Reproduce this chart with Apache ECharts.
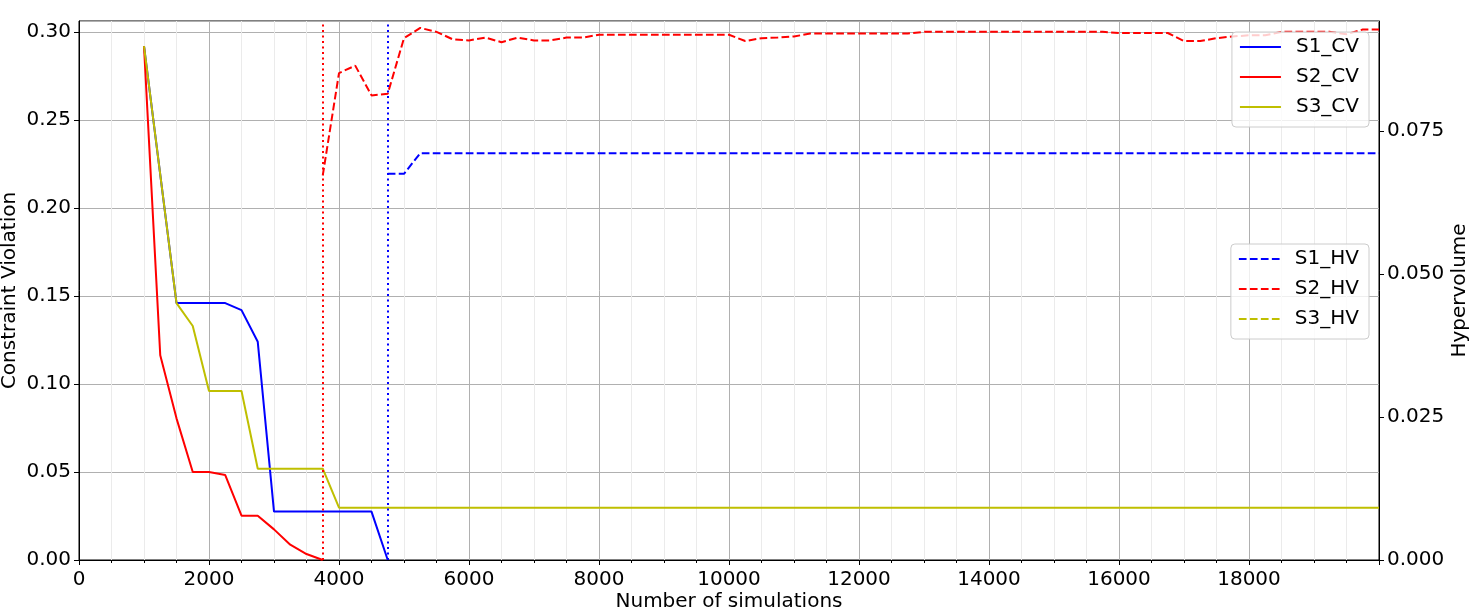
<!DOCTYPE html>
<html><head><meta charset="utf-8">
<script src="https://cdn.jsdelivr.net/npm/echarts@6/dist/echarts.min.js"></script>
<style>html,body{margin:0;padding:0;background:#fff}#c{width:1481px;height:613px}</style>
</head><body><div id="c"></div>
<script>
// ---- data ----
const xLimit = 20000;
const cvLimit = 0.3063;
const hvLimit = 0.0942;
const feasibleAt = { S1: 4750, S2: 3750 };

const s1CvX = [1000, 1250, 1500, 1750, 2000, 2250, 2500, 2750, 3000, 3250, 3500, 3750, 4000, 4250, 4500, 4750];
const s1CvY = [0.292, 0.219, 0.146, 0.146, 0.146, 0.146, 0.142, 0.124, 0.0275, 0.0275, 0.0275, 0.0275, 0.0275, 0.0275, 0.0275, 0];

const s2CvX = [1000, 1250, 1500, 1750, 2000, 2250, 2500, 2750, 3000, 3250, 3500, 3750];
const s2CvY = [0.292, 0.1163, 0.0805, 0.050, 0.050, 0.0483, 0.0252, 0.0252, 0.0174, 0.0087, 0.0034, 0];

const s3CvX = [1000, 1250, 1500, 1750, 2000, 2250, 2500, 2750, 3000, 3250, 3500, 3750, 4000, 20000];
const s3CvY = [0.292, 0.219, 0.146, 0.133, 0.096, 0.096, 0.096, 0.0519, 0.0519, 0.0519, 0.0519, 0.0519, 0.0297, 0.0297];

const s1HvX = [4750, 5000, 5250, 20000];
const s1HvY = [0.0675, 0.0675, 0.0711, 0.0711];

const s2HvX = [3750, 4000, 4250, 4500, 4750, 5000, 5250, 5500, 5750, 6000, 6250, 6500, 6750, 7000, 7250, 7500, 7750, 8000,
  10000, 10250, 10500, 10750, 11000, 11250, 12750, 13000, 15750, 16000, 16750, 17000, 17250, 17500, 17750, 18000, 18250,
  18500, 19250, 19500, 19750, 20000];
const s2HvY = [0.0672, 0.0851, 0.0864, 0.0812, 0.0815, 0.0912, 0.0930, 0.0923, 0.0910, 0.0908, 0.0913, 0.0905, 0.0913, 0.0908, 0.0908, 0.0913, 0.0913, 0.0918,
  0.0918, 0.0907, 0.0912, 0.0913, 0.0915, 0.0920, 0.0920, 0.0923, 0.0923, 0.0921, 0.0921, 0.0907, 0.0907, 0.0912, 0.0915, 0.0917, 0.0917,
  0.0923, 0.0923, 0.0919, 0.0927, 0.0927];

const s3HvX = [];
const s3HvY = [];

// ---- chart ----
const zip = (xs, ys) => xs.map((x, i) => [x, ys[i]]);
const FONT = 'DejaVu Sans';
const FS = 20;
const BLUE = '#0000ff', RED = '#ff0000', YEL = '#bfbf00';
const LW = 2;
const DASH = [7.7, 3.3], DOT = [2.1, 3.4];

function line(name, xs, ys, color, dashed, yIdx, extra) {
  return Object.assign({
    name, type: 'line', yAxisIndex: yIdx, data: zip(xs, ys),
    symbol: 'none', showSymbol: false, clip: true, silent: true,
    lineStyle: { color, width: LW, type: dashed ? DASH : 'solid' },
    itemStyle: { color }
  }, extra || {});
}
function vline(x, color) {
  return {
    silent: true, symbol: ['none', 'none'], label: { show: false },
    lineStyle: { color, width: LW, type: DOT },
    data: [{ xAxis: x }]
  };
}

const legendBase = {
  orient: 'vertical', right: 112, itemWidth: 41, itemHeight: 14, itemGap: 10,
  padding: [5, 10, 10, 7],
  itemStyle: { opacity: 0 },
  backgroundColor: 'rgba(255,255,255,0.8)', borderColor: '#cccccc', borderWidth: 1, borderRadius: 4,
  textStyle: { fontFamily: FONT, fontSize: FS, color: '#000', padding: [0, 0, 0, 10] },
  selectedMode: false
};
const plain = v => String(v);

const option = {
  animation: false,
  backgroundColor: '#fff',
  grid: { left: 79, right: 102, top: 21, bottom: 53, outerBoundsMode: 'none', containLabel: false,
          show: true, borderColor: '#000', borderWidth: 1, backgroundColor: 'transparent' },
  legend: [
    Object.assign({}, legendBase, { top: 32, data: ['S1_CV', 'S2_CV', 'S3_CV'] }),
    Object.assign({}, legendBase, { top: 244, data: ['S1_HV', 'S2_HV', 'S3_HV'] })
  ],
  xAxis: {
    type: 'value', min: 0, max: xLimit, interval: 2000,
    name: 'Number of simulations', nameLocation: 'middle', nameGap: 32, nameMoveOverlap: false,
    nameTextStyle: { fontFamily: FONT, fontSize: FS, color: '#000' },
    axisLine: { show: true, onZero: false, lineStyle: { color: '#000', width: 1 } },
    axisTick: { show: true, inside: false, length: 5, lineStyle: { color: '#000' } },
    minorTick: { show: true, splitNumber: 4, length: 3, lineStyle: { color: '#000' } },
    axisLabel: { fontFamily: FONT, fontSize: FS, color: '#000', margin: 10, showMaxLabel: false, formatter: plain },
    splitLine: { show: true, lineStyle: { color: '#b0b0b0', width: 1 } },
    minorSplitLine: { show: true, lineStyle: { color: '#ebebeb', width: 1 } }
  },
  yAxis: [
    {
      type: 'value', min: 0, max: cvLimit, interval: 0.05, position: 'left',
      name: 'Constraint Violation', nameLocation: 'middle', nameGap: 59, nameRotate: 90, nameMoveOverlap: false,
      nameTextStyle: { fontFamily: FONT, fontSize: FS, color: '#000' },
      axisLine: { show: true, onZero: false, lineStyle: { color: '#000', width: 1 } },
      axisTick: { show: true, inside: false, length: 5, lineStyle: { color: '#000' } },
      axisLabel: { fontFamily: FONT, fontSize: FS, color: '#000', margin: 8, showMaxLabel: false, formatter: v => v.toFixed(2) },
      splitLine: { show: true, lineStyle: { color: '#b0b0b0', width: 1 } }
    },
    {
      type: 'value', min: 0, max: hvLimit, interval: 0.025, position: 'right',
      name: 'Hypervolume', nameLocation: 'middle', nameGap: 71, nameRotate: 90, nameMoveOverlap: false,
      nameTextStyle: { fontFamily: FONT, fontSize: FS, color: '#000' },
      axisLine: { show: true, onZero: false, lineStyle: { color: '#000', width: 1 } },
      axisTick: { show: true, inside: false, length: 5, lineStyle: { color: '#000' } },
      axisLabel: { fontFamily: FONT, fontSize: FS, color: '#000', margin: 8, showMaxLabel: false, formatter: v => v.toFixed(3) },
      splitLine: { show: false }
    }
  ],
  series: [
    line('S1_CV', s1CvX, s1CvY, BLUE, false, 0, { markLine: vline(feasibleAt.S1, BLUE) }),
    line('S2_CV', s2CvX, s2CvY, RED, false, 0, { markLine: vline(feasibleAt.S2, RED) }),
    line('S3_CV', s3CvX, s3CvY, YEL, false, 0),
    line('S1_HV', s1HvX, s1HvY, BLUE, true, 1),
    line('S2_HV', s2HvX, s2HvY, RED, true, 1),
    line('S3_HV', s3HvX, s3HvY, YEL, true, 1)
  ]
};
const chart = echarts.init(document.getElementById('c'), null, { renderer: 'canvas' });
chart.setOption(option);
</script>
</body></html>
